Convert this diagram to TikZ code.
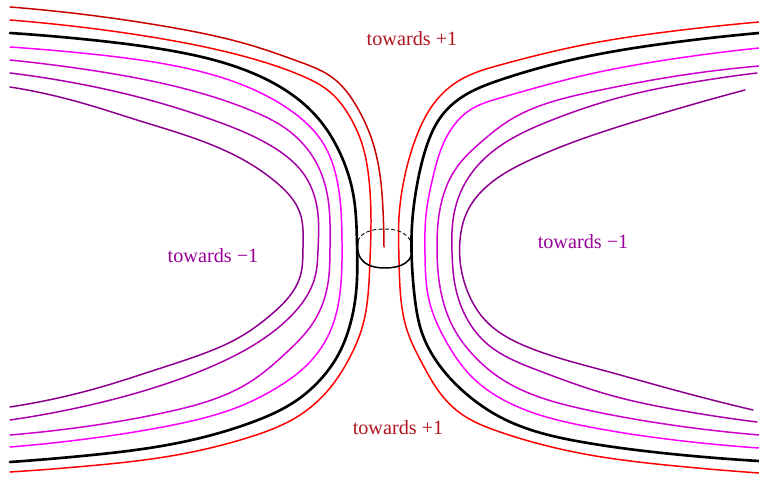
\documentclass[tikz,border=0pt]{standalone}
\usepackage{fontspec}
\setmainfont{Liberation Serif}
\usepackage{xcolor}
\usetikzlibrary{calc,hobby}

\definecolor{outerred}{RGB}{200,0,0}
\definecolor{levelred}{RGB}{255,0,0}
\definecolor{levelmag}{RGB}{255,0,255}
\definecolor{levelmagb}{RGB}{205,0,205}
\definecolor{levelpurp}{RGB}{170,0,170}
\definecolor{levelpurpb}{RGB}{140,0,140}
\definecolor{plustext}{RGB}{175,20,30}
\definecolor{minustext}{RGB}{150,0,150}

\begin{document}
\begin{tikzpicture}[
  x=0.02cm, y=-0.02cm,
  line cap=round,
  line join=round,
  level/.style={line width=0.85pt,use Hobby shortcut},
  neckline/.style={black,line width=1.5pt,use Hobby shortcut},
  necksolid/.style={black,line width=0.85pt},
  neckdash/.style={black,line width=0.5pt,dash pattern=on 2pt off 1.6pt},
  plustag/.style={plustext,inner sep=0pt,font=\fontsize{11.5}{13}\selectfont},
  minustag/.style={minustext,inner sep=0pt,font=\fontsize{11.5}{13}\selectfont}
]
\path[use as bounding box] (0,0) rectangle (759,476);

% left family
\draw[level,outerred] (10,7) .. (90,15.2) .. (170,27.2) .. (250,45) .. (300,62)
  .. (333,78) .. (357,107) .. (372,140) .. (380,175) .. (383,210) .. (384,247);
\draw[level,levelred] (10,20) .. (90,28.2) .. (170,40.2) .. (250,58) .. (300,75)
  .. (330,92) .. (350,117) .. (363,147) .. (369,180) .. (371,220) .. (370,260)
  .. (368,295) .. (362,328) .. (350,357) .. (330,388) .. (300,415) .. (250,437)
  .. (170,456.1) .. (90,465.8) .. (10,472);
\draw[neckline] (10,33) .. (90,39.8) .. (170,50.5) .. (250,72) .. (282,88)
  .. (317,117) .. (340,153) .. (353,193) .. (357,243) .. (356,293) .. (350,325)
  .. (337,357) .. (320,380) .. (300,398) .. (250,423) .. (170,444.5)
  .. (90,455.2) .. (10,462);
\draw[level,levelmag] (10,47) .. (90,53.9) .. (170,64.9) .. (250,88) .. (290,110)
  .. (323,143) .. (337,180) .. (342,243) .. (340,293) .. (332,327) .. (307,365)
  .. (273,390) .. (250,402) .. (170,425.6) .. (90,438.5) .. (10,447);
\draw[level,levelmagb] (10,60) .. (90,70.1) .. (170,85.1) .. (250,110) .. (285,128)
  .. (313,157) .. (327,193) .. (330,247) .. (328,283) .. (313,323) .. (287,352)
  .. (250,382) .. (170,411.4) .. (90,425.9) .. (10,435);
\draw[level,levelpurp] (10,73) .. (78,83.6) .. (145,98.8) .. (213,120) .. (273,147)
  .. (303,173) .. (317,207) .. (318,250) .. (315,277) .. (290,317) .. (257,343)
  .. (215,365) .. (147,389.9) .. (78,407.7) .. (10,420);
\draw[level,levelpurpb] (10,87) .. (52,95.2) .. (95,106.8) .. (137,120)
  .. (240,158) .. (277,183) .. (300,213) .. (303,247) .. (300,277) .. (273,313)
  .. (240,337) .. (197,356) .. (155,370) .. (107,385.3) .. (58,398) .. (10,407);

% right family
\draw[level,levelred] (759,22) .. (673,31.1) .. (586,44.4) .. (500,65) .. (460,80)
  .. (435,102) .. (417,135) .. (405,175) .. (399,217) .. (399,260) .. (401,300)
  .. (407,330) .. (423,365) .. (440,393) .. (460,413) .. (500,432)
  .. (586,454.3) .. (673,465.7) .. (759,473);
\draw[neckline] (759,33) .. (673,42.5) .. (586,56.7) .. (500,80) .. (462,97)
  .. (440,118) .. (427,145) .. (417,185) .. (412,225) .. (412,265) .. (415,300)
  .. (422,333) .. (443,370) .. (470,397) .. (500,417) .. (586,442.7)
  .. (673,454.1) .. (759,461);
\draw[level,levelmag] (759,48) .. (673,58.9) .. (586,74.9) .. (500,98) .. (470,110)
  .. (452,128) .. (440,152) .. (433,177) .. (426,215) .. (425,255) .. (429,300)
  .. (447,343) .. (470,375) .. (500,398) .. (586,426.3) .. (673,439.8) .. (759,448);
\draw[level,levelmagb] (759,66) .. (676,76.1) .. (593,91.6) .. (510,120) .. (480,143)
  .. (457,167) .. (442,200) .. (437,247) .. (440,287) .. (453,327) .. (475,357)
  .. (500,378) .. (586,409.7) .. (673,425.2) .. (759,435);
\draw[level,levelpurp] (757,73) .. (689,82.9) .. (620,97.4) .. (552,120)
  .. (480,163) .. (463,187) .. (453,220) .. (452,252) .. (455,285) .. (465,315)
  .. (485,342) .. (537,370) .. (610,395.1) .. (684,411.1) .. (757,422);
\draw[level,levelpurpb] (745,90) .. (640,120) .. (530,160) .. (485,188) .. (467,212)
  .. (460,240) .. (461,268) .. (469,295) .. (485,320) .. (530,348) .. (602,370)
  .. (678,391) .. (753,410);

% neck circle
\coordinate (neckL) at (358,241);
\coordinate (neckR) at (412,247);
\draw[necksolid] (neckL) .. controls (355,263) and (370,268) .. (385,268)
  .. controls (401,268) and (414,262) .. (neckR);
\draw[neckdash] (neckL) .. controls (361,232) and (372,229) .. (385,229)
  .. controls (400,229) and (411,235) .. (neckR);

% labels
\node[plustag] (plustop) at (412,39) {towards +1};
\node[plustag] (plusbot) at (398,428) {towards +1};
\node[minustag] (minusleft) at (213,256) {towards −1};
\node[minustag] (minusright) at (583,242) {towards −1};
\end{tikzpicture}
\end{document}
